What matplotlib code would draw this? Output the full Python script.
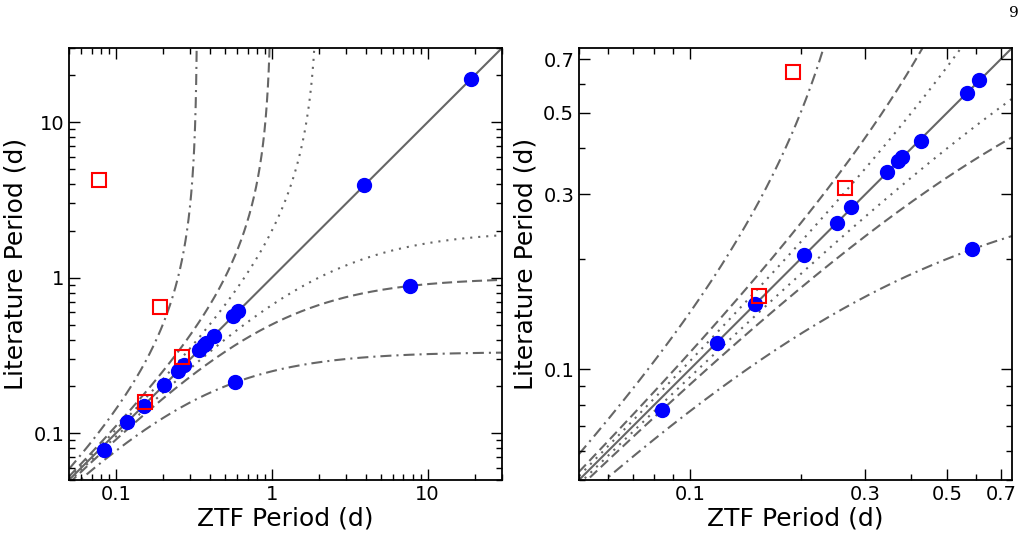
import numpy as np
import matplotlib
matplotlib.use("Agg")
import matplotlib.pyplot as plt
from matplotlib.ticker import FixedLocator, FixedFormatter, LogLocator, NullFormatter

# measured periods (days)
ztf_good = [0.0841, 0.1184, 0.1507, 0.204, 0.2513, 0.2748, 0.3433, 0.3684,
            0.3777, 0.425, 0.5656, 0.6116, 0.585, 3.9, 18.95, 7.70]
lit_good = [0.0775, 0.1182, 0.1503, 0.205, 0.2506, 0.276, 0.345, 0.370,
            0.378, 0.419, 0.567, 0.615, 0.2126, 3.92, 19.0, 0.882]

ztf_bad = [0.0775, 0.1905, 0.264, 0.1545]
lit_bad = [4.28, 0.647, 0.311, 0.158]

# alias offsets (1/d) and their dash patterns
alias_n = [0.5, 1.0, 3.0]
alias_dash = [(1, 2.85), (4.8, 2.4), (5.3, 2.4, 1, 2.4)]

line_col = "#666666"

fig = plt.figure(figsize=(10.28, 5.35), dpi=100)
ax1 = fig.add_axes([69 / 1028, 55 / 535, 433 / 1028, 432 / 535])
ax2 = fig.add_axes([579 / 1028, 55 / 535, 433 / 1028, 432 / 535])


def draw(ax, lo, hi):
    p = np.geomspace(lo, hi, 2000)
    ax.plot(p, p, "-", color=line_col, lw=1.5, zorder=1)
    for n, dsh in zip(alias_n, alias_dash):
        lower = 1.0 / (1.0 / p + n)
        ax.plot(p, lower, color=line_col, lw=1.5, dashes=dsh, zorder=1)
        d = 1.0 / p - n
        upper = np.where(d > 0, 1.0 / np.where(d > 0, d, 1.0), np.nan)
        ax.plot(p, upper, color=line_col, lw=1.5, dashes=dsh, zorder=1)
    ax.plot(ztf_good, lit_good, "o", color="blue", ms=10, mec="blue", zorder=3)
    ax.plot(ztf_bad, lit_bad, "s", mfc="none", mec="red", mew=1.5, ms=9.5, zorder=4)
    ax.set_xscale("log")
    ax.set_yscale("log")
    ax.set_xlim(lo, hi)
    ax.set_ylim(lo, hi)
    ax.set_xlabel("ZTF Period (d)", fontsize=18, labelpad=2)
    ax.set_ylabel("Literature Period (d)", fontsize=18)
    ax.tick_params(which="both", direction="in", top=True, right=True, labelsize=14)
    ax.tick_params(which="major", length=8, width=1)
    ax.tick_params(which="minor", length=4.5, width=1)
    for s in ax.spines.values():
        s.set_linewidth(1.3)


draw(ax1, 0.05, 30)
ticks1 = [0.1, 1, 10]
for a in (ax1.xaxis, ax1.yaxis):
    a.set_major_locator(FixedLocator(ticks1))
    a.set_major_formatter(FixedFormatter(["0.1", "1", "10"]))
    a.set_minor_locator(LogLocator(subs=np.arange(2, 10), numticks=20))
    a.set_minor_formatter(NullFormatter())

draw(ax2, 0.05, 0.75)
ticks2 = [0.1, 0.3, 0.5, 0.7]
minor2 = [0.05, 0.06, 0.07, 0.08, 0.09, 0.2, 0.4, 0.6]
for a in (ax2.xaxis, ax2.yaxis):
    a.set_major_locator(FixedLocator(ticks2))
    a.set_major_formatter(FixedFormatter(["0.1", "0.3", "0.5", "0.7"]))
    a.set_minor_locator(FixedLocator(minor2))
    a.set_minor_formatter(NullFormatter())

fig.text(1014 / 1028, 1 - 13 / 535, "9", family="DejaVu Serif", fontsize=11,
         ha="center", va="center")

fig.savefig("out.png", dpi=100)
